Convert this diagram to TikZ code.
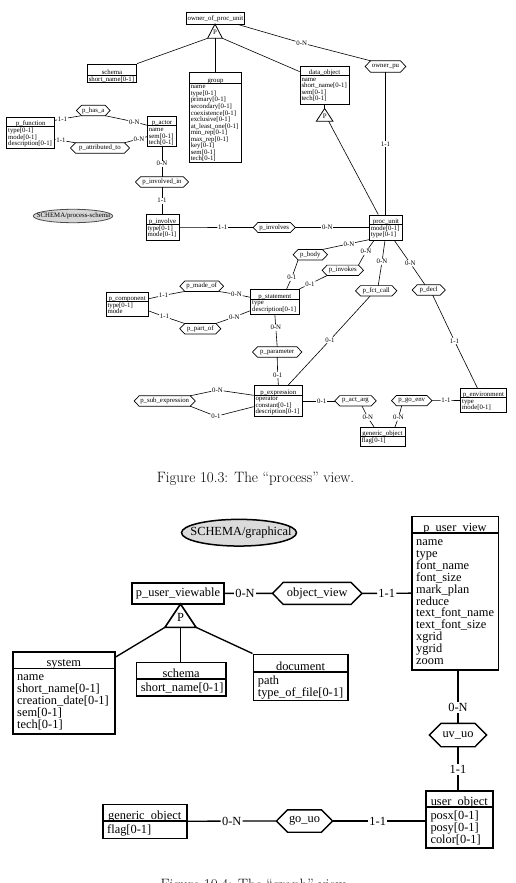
\documentclass[tikz,border=0pt]{standalone}
\usepackage{fontspec}
\newfontfamily\tnr{Liberation Serif}
\usetikzlibrary{fit,shapes.geometric}
\tikzset{
  sf/.style={font={\tnr\fontsize{6.8}{6.55}\selectfont\lineskiplimit-20pt\relax}},
  lf/.style={font={\tnr\fontsize{12.4}{11.9}\selectfont\lineskiplimit-20pt\relax}},
  sline/.style={line width=0.8pt},
  lline/.style={line width=1.6pt},
  shexline/.style={line width=0.7pt},
  lhexline/.style={line width=1.4pt},
  sconn/.style={line width=0.6pt},
  lconn/.style={line width=1.35pt},
  stt/.style={yshift=1pt},
  sat/.style={xshift=1.3pt,yshift=-1.1pt},
  ltt/.style={yshift=1.6pt},
  lat/.style={xshift=4.3pt,yshift=-4pt},
  scard/.style={sf,inner sep=0.7pt},
  lcard/.style={lf,inner sep=1.2pt},
  capfont/.style={font=\fontsize{15}{18}\selectfont}
}
% #1 name, #2 x1, #3 y1, #4 x2, #5 y2, #6 separator y, #7 title, #8 attributes, #9 size s/l
\newcommand\ERbox[9]{%
  \node[fit={(#2,#3) (#4,#5)}, inner sep=0pt, draw, #9line] (#1) {};
  \draw[#9line] (#2,#6) -- (#4,#6);
  \node[#9f, anchor=base, inner sep=0pt, #9tt] (#1-t) at ({(#2+#4)/2},#6) {#7};
  \node[#9f, anchor=north west, align=left, inner sep=0pt, #9at] (#1-a) at (#2,#6) {\strut #8};
}
% #1 name, #2 cx, #3 cy, #4 w, #5 h, #6 point depth, #7 size s/l, #8 text
\newcommand\ERhex[8]{%
  \node[#7f, inner sep=0pt, minimum width=#4pt, minimum height=#5pt] (#1) at (#2,#3) {#8};
  \draw[#7hexline, line join=miter] (#1.west) -- ([xshift=#6pt]#1.north west) coordinate (#1-nw)
     -- ([xshift=-#6pt]#1.north east) coordinate (#1-ne) -- (#1.east)
     -- ([xshift=-#6pt]#1.south east) coordinate (#1-se)
     -- ([xshift=#6pt]#1.south west) coordinate (#1-sw) -- cycle;
}
\begin{document}
\begin{tikzpicture}[x=1pt,y=-1pt]
\clip (0,0) rectangle (516,883);
\fill[white] (0,0) rectangle (516,883);

%%%%%%%%%%%%%%%% Figure 10.3 %%%%%%%%%%%%%%%%
\node[fit={(186.7,12.7) (244.3,24)}, inner sep=0pt, draw, sline] (owner) {};
\node[sf, inner sep=0pt] (owner-t) at (owner.center) {owner\_of\_proc\_unit};

\ERbox{schema_t}{87.3}{64}{136.7}{82.3}{75.3}{schema}{short\_name[0-1]}{s}
\ERbox{group}{189.3}{72.7}{241.7}{162.7}{83}{group}{name\\type[0-1]\\primary[0-1]\\secondary[0-1]\\coexistence[0-1]\\exclusive[0-1]\\at\_least\_one[0-1]\\min\_rep[0-1]\\max\_rep[0-1]\\key[0-1]\\sem[0-1]\\tech[0-1]}{s}
\ERbox{data_object}{300}{66}{349.3}{104}{75.3}{data\_object}{name\\short\_name[0-1]\\sem[0-1]\\tech[0-1]}{s}
\ERbox{p_function}{6.7}{117.3}{54.7}{148.3}{126.7}{p\_function}{type[0-1]\\mode[0-1]\\description[0-1]}{s}
\ERbox{p_actor}{147.3}{116.7}{176.7}{146.7}{125.7}{p\_actor}{name\\sem[0-1]\\tech[0-1]}{s}
\ERbox{p_involve}{146}{214.7}{179}{240}{224.3}{p\_involve}{type[0-1]\\mode[0-1]}{s}
\ERbox{proc_unit}{369.3}{215}{402.7}{240}{224.3}{proc\_unit}{mode[0-1]\\type[0-1]}{s}
\ERbox{p_component}{106}{292}{148.3}{316.7}{301}{p\_component}{type[0-1]\\mode}{s}
\ERbox{p_statement}{250.7}{289.3}{299}{314.3}{299}{p\_statement}{type\\description[0-1]}{s}
\ERbox{p_expression}{254}{385.3}{302.7}{416.3}{395}{p\_expression}{operator\\constant[0-1]\\description[0-1]}{s}
\ERbox{p_environment}{460.7}{388.3}{506}{412.7}{397.3}{p\_environment}{type\\mode[0-1]}{s}
\ERbox{generic_object_t}{360}{427.3}{405}{446}{436.7}{generic\_object}{flag[0-1]}{s}

\ERhex{owner_pu}{385.5}{66.5}{40.4}{11}{5.5}{s}{owner\_pu}
\ERhex{p_has_a}{93.3}{110.5}{33.3}{10}{5}{s}{p\_has\_a}
\ERhex{p_attributed_to}{100}{148}{58.6}{10}{5}{s}{p\_attributed\_to}
\ERhex{p_involved_in}{162}{182}{52.6}{10}{5}{s}{p\_involved\_in}
\ERhex{p_involves}{274.2}{227.5}{41.7}{9.5}{4.75}{s}{p\_involves}
\ERhex{p_body}{310.3}{254.7}{34}{10}{5}{s}{p\_body}
\ERhex{p_invokes}{342.8}{270.3}{41}{10}{5}{s}{p\_invokes}
\ERhex{p_fct_call}{376.2}{290.8}{41}{10}{5}{s}{p\_fct\_call}
\ERhex{p_decl}{428.7}{290}{32.7}{10}{5}{s}{p\_decl}
\ERhex{p_made_of}{201.7}{286.2}{43.3}{10}{5}{s}{p\_made\_of}
\ERhex{p_part_of}{200.3}{328.7}{40.7}{10}{5}{s}{p\_part\_of}
\ERhex{p_parameter}{277.2}{352}{49}{10}{5}{s}{p\_parameter}
\ERhex{p_sub_expression}{164.7}{401}{60.7}{10}{5}{s}{p\_sub\_expression}
\ERhex{p_act_arg}{355.5}{400.8}{41}{10}{5}{s}{p\_act\_arg}
\ERhex{p_go_env}{411.7}{400.6}{40}{10}{5}{s}{p\_go\_env}

\node[ellipse, draw=black!70, fill=black!16, line width=0.8pt, minimum width=79.4pt, minimum height=13.4pt, inner sep=0pt] (sch_ps) at (73,216) {};
\node[sf, inner sep=0pt] (sch_ps-t) at (73.5,216) {SCHEMA/process-schema};

% is-a triangle under owner_of_proc_unit
\coordinate (T1a) at (215,24);
\coordinate (T1l) at (207.6,38.3);
\coordinate (T1r) at (222.4,38.3);
\coordinate (T1b) at (215,38.3);
\draw[sline] (T1a) -- (T1l) -- (T1r) -- cycle;
\node[sf, inner sep=0pt] (T1p) at (215,32.3) {P};
\draw[sconn] (T1l) -- (schema_t.north east);
\draw[sconn] (T1b) -- (T1b |- group.north);
\draw[sconn] (T1r) -- ([yshift=-6pt]data_object.north west);

% is-a triangle under data_object
\coordinate (T2a) at (324.65,108.5);
\coordinate (T2l) at (316.3,121.3);
\coordinate (T2r) at (333,121.3);
\coordinate (T2b) at (324.65,121.3);
\draw[sline] (data_object.south) -- (T2a);
\draw[sline] (T2a) -- (T2l) -- (T2r) -- cycle;
\node[sf, inner sep=0pt] (T2p) at (324.65,116.3) {P};
\draw[sconn] ([xshift=4pt]T2b) -- ([xshift=-7.7pt]proc_unit.north);

% connectors
\node[scard] (c01) at (301.7,43) {0-N};
\draw[sconn] ([xshift=-7pt]owner.south east) -- (c01) -- (owner_pu-nw);
\node[scard] (c02) at (385.5,144.3) {1-1};
\draw[sconn] (owner_pu.south) -- (c02) -- (owner_pu.south |- proc_unit.north);

\node[scard] (c03) at (62.5,118.8) {1-1};
\draw[sconn] ([yshift=12.5pt]p_function.east) -- (c03) -- (p_has_a-sw);
\node[scard] (c04) at (134.3,121.8) {0-N};
\draw[sconn] (p_has_a-se) -- (c04) -- ([yshift=6.5pt]p_actor.west);
\node[scard] (c05) at (61,140.3) {1-1};
\draw[sconn] ([yshift=-6.5pt]p_function.east) -- (c05) -- (p_attributed_to-nw);
\node[scard] (c06) at (139,138.8) {0-N};
\draw[sconn] (p_attributed_to-ne) -- (c06) -- ([yshift=-5pt]p_actor.west);

\node[scard] (c07) at (162,163.7) {0-N};
\draw[sconn] (p_actor.south) -- (c07) -- (p_actor.south |- p_involved_in.north);
\node[scard] (c08) at (162,200.7) {1-1};
\draw[sconn] (p_involved_in.south) -- (c08) -- (p_involved_in.south |- p_involve.north);

\node[scard] (c09) at (222.7,227.5) {1-1};
\draw[sconn] (p_involve.east) -- (c09) -- (p_involves.west);
\node[scard] (c10) at (327.3,227.5) {0-N};
\draw[sconn] (p_involves.east) -- (c10) -- (proc_unit.west);

\node[scard] (c11) at (349,243.8) {0-N};
\draw[sconn] ([yshift=0.7pt]proc_unit.south west) -- (c11) -- (p_body-ne);
\node[scard] (c12) at (291.8,277.7) {0-1};
\draw[sconn] (p_body-sw) -- (c12) -- ([xshift=11.8pt]p_statement.north);

\node[scard] (c13) at (366,251.7) {0-N};
\draw[sconn] ([xshift=-12pt]proc_unit.south) -- (c13) -- (p_invokes-ne);
\node[scard] (c14) at (310,284) {0-1};
\draw[sconn] (p_invokes-sw) -- (c14) -- (p_statement.north east);

\node[scard] (c15) at (382,261.7) {0-N};
\draw[sconn] ([xshift=-1pt]proc_unit.south) -- (c15) -- ([xshift=2pt]p_fct_call.north);
\node[scard] (c16) at (330,340) {0-1};
\draw[sconn] ([xshift=-6pt]p_fct_call.south) -- (c16) -- ([xshift=10pt]p_expression.north);

\node[scard] (c17) at (410.3,263.3) {0-N};
\draw[sconn] ([xshift=8.3pt]proc_unit.south) -- (c17) -- ([xshift=-3.7pt]p_decl.north);
\node[scard] (c18) at (454.5,341) {1-1};
\draw[sconn] ([xshift=4pt]p_decl.south) -- (c18) -- ([xshift=-6pt]p_environment.north);

\node[scard] (c19) at (163.5,295.4) {1-1};
\draw[sconn] ([yshift=5.6pt]p_component.east) -- (c19) -- (p_made_of-sw);
\node[scard] (c20) at (236.5,294.4) {0-N};
\draw[sconn] (p_made_of-se) -- (c20) -- ([yshift=4.5pt]p_statement.west);

\node[scard] (c21) at (164.5,316.7) {1-1};
\draw[sconn] ([yshift=-6.6pt]p_component.east) -- (c21) -- (p_part_of-nw);
\node[scard] (c22) at (234.3,317) {0-N};
\draw[sconn] (p_part_of-ne) -- (c22) -- ([yshift=-8.9pt]p_statement.west);

\node[scard] (c23) at (275.8,327.7) {0-N};
\draw[sconn] (p_statement.south) -- (c23) -- (p_parameter.north);
\node[scard] (c24) at (277.7,375) {0-1};
\draw[sconn] (p_parameter.south) -- (c24) -- (p_expression.north);

\node[scard] (c25) at (217.5,390) {0-N};
\draw[sconn] (p_sub_expression-ne) -- (c25) -- ([yshift=5.5pt]p_expression.west);
\node[scard] (c26) at (216,416.3) {0-1};
\draw[sconn] (p_sub_expression-se) -- (c26) -- ([yshift=-5.9pt]p_expression.west);

\node[scard] (c27) at (321.7,400.8) {0-1};
\draw[sconn] (p_expression.east) -- (c27) -- (p_act_arg.west);
\node[scard] (c28) at (367.8,417.5) {0-N};
\draw[sconn] ([xshift=6.5pt]p_act_arg.south) -- (c28) -- ([xshift=-8.5pt]generic_object_t.north);
\node[scard] (c29) at (398.5,417.5) {0-N};
\draw[sconn] ([xshift=-10pt]p_go_env.south) -- (c29) -- ([xshift=12.5pt]generic_object_t.north);
\node[scard] (c30) at (446,400.6) {1-1};
\draw[sconn] (p_go_env.east) -- (c30) -- (p_environment.west);

\node[capfont, anchor=base] (cap1) at (255.5,482.5) {Figure 10.3: The “process” view.};

%%%%%%%%%%%%%%%% Figure 10.4 %%%%%%%%%%%%%%%%
\node[ellipse, draw, fill=black!14, line width=1.5pt, minimum width=115pt, minimum height=26.7pt, inner sep=0pt] (sch_g) at (239,532.7) {};
\node[lf, inner sep=0pt] (sch_g-t) at (241,532.7) {SCHEMA/graphical};

\node[fit={(132,582.7) (224,604)}, inner sep=0pt, draw, lline] (p_user_viewable) {};
\node[lf, inner sep=0pt] (p_user_viewable-t) at (p_user_viewable.center) {p\_user\_viewable};

\ERbox{p_user_view}{411.7}{516.3}{498.3}{670}{533}{p\_user\_view}{name\\type\\font\_name\\font\_size\\mark\_plan\\reduce\\text\_font\_name\\text\_font\_size\\xgrid\\ygrid\\zoom}{l}
\ERbox{system}{12.7}{651.7}{115}{734}{668.3}{system}{name\\short\_name[0-1]\\creation\_date[0-1]\\sem[0-1]\\tech[0-1]}{l}
\ERbox{schema_b}{136.3}{662.3}{226}{696}{678.7}{schema}{short\_name[0-1]}{l}
\ERbox{document}{253.3}{654.3}{347.7}{700.3}{671.7}{document}{path\\type\_of\_file[0-1]}{l}
\ERbox{user_object}{426}{790.7}{492.7}{847.7}{806.7}{user\_object}{posx[0-1]\\posy[0-1]\\color[0-1]}{l}
\ERbox{generic_object_b}{102.7}{804.3}{186.7}{838.3}{821}{generic\_object}{flag[0-1]}{l}

\ERhex{object_view}{317.2}{593.4}{89}{21.6}{10.8}{l}{object\_view}
\ERhex{uv_uo}{458}{735}{56.7}{23}{11.5}{l}{uv\_uo}
\ERhex{go_uo}{304.5}{821}{55.6}{22}{11}{l}{go\_uo}

\coordinate (T3a) at (180.5,604);
\coordinate (T3l) at (165,627.3);
\coordinate (T3r) at (196,627.3);
\coordinate (T3b) at (180.5,627.3);
\draw[lline] (T3a) -- (T3l) -- (T3r) -- cycle;
\node[lf, inner sep=0pt] (T3p) at (180.5,617) {P};
\draw[lconn] (T3l) -- ([yshift=-6pt]system.north east);
\draw[lconn] (T3b) -- (T3b |- schema_b.north);
\draw[lconn] (T3r) -- (document.north west);

\node[lcard] (d01) at (245,593.4) {0-N};
\draw[lconn] (p_user_viewable.east) -- (d01) -- (object_view.west);
\node[lcard] (d02) at (386.7,593.3) {1-1};
\draw[lconn] (object_view.east) -- (d02) -- (p_user_view.west);
\node[lcard] (d03) at (458,707.7) {0-N};
\draw[lconn] (p_user_view.south -| d03) -- (d03) -- (uv_uo.north);
\node[lcard] (d04) at (458,769) {1-1};
\draw[lconn] (uv_uo.south) -- (d04) -- (d04 |- user_object.north);
\node[lcard] (d05) at (231.7,821) {0-N};
\draw[lconn] (generic_object_b.east) -- (d05) -- (go_uo.west);
\node[lcard] (d06) at (377.7,821) {1-1};
\draw[lconn] (go_uo.east) -- (d06) -- (go_uo.east -| user_object.west);

\node[capfont, anchor=base] (cap2) at (255,889) {Figure 10.4: The “graph” view.};
\end{tikzpicture}
\end{document}
